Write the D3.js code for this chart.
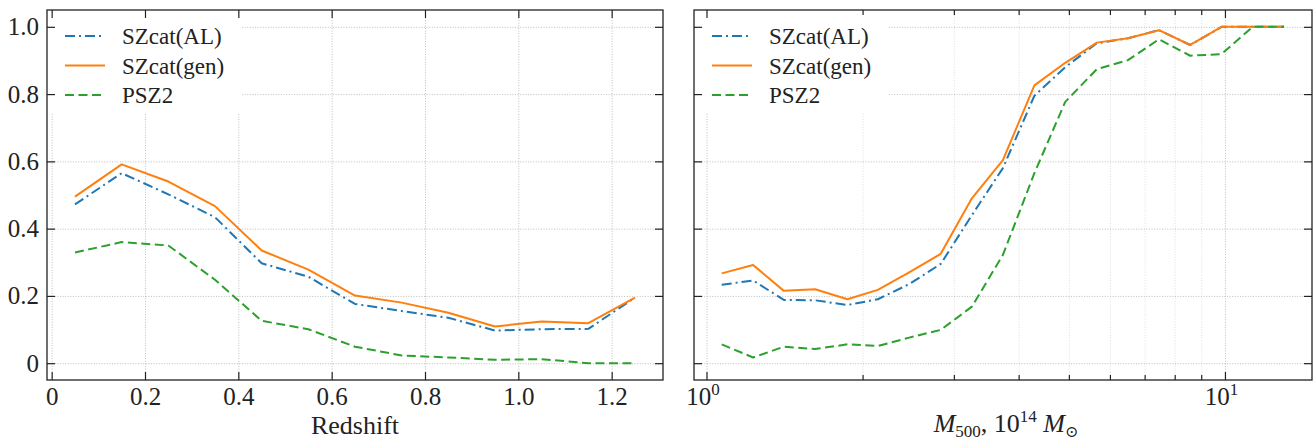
<!DOCTYPE html>
<html>
<head>
<meta charset="utf-8">
<script src="https://cdn.jsdelivr.net/npm/d3@7"></script>
<style>
body{margin:0;background:#fff}
</style>
</head>
<body>
<svg id="chart" width="1315" height="441"></svg>
<script>
// left panel: completeness vs redshift
const redshift = [0.05,0.15,0.25,0.35,0.45,0.55,0.65,0.75,0.85,0.95,1.05,1.15,1.25]
const zAL  = [0.472,0.565,0.502,0.434,0.297,0.257,0.176,0.155,0.135,0.097,0.101,0.102,0.195]
const zGen = [0.495,0.591,0.540,0.467,0.335,0.278,0.201,0.180,0.150,0.109,0.124,0.119,0.195]
const zPSZ = [0.329,0.360,0.350,0.248,0.126,0.101,0.049,0.023,0.017,0.010,0.012,0.000,0.000]

// right panel: completeness vs mass (1e14 Msun)
const mass = [1.07,1.23,1.41,1.62,1.87,2.14,2.46,2.83,3.25,3.73,4.29,4.92,5.66,6.50,7.46,8.57,9.85,11.31,13.0]
const mAL  = [0.233,0.246,0.188,0.187,0.173,0.190,0.235,0.295,0.440,0.580,0.795,0.880,0.951,0.966,0.990,0.946,1.0,1.0,1.0]
const mGen = [0.267,0.292,0.215,0.220,0.190,0.218,0.270,0.325,0.490,0.604,0.826,0.893,0.953,0.966,0.990,0.946,1.0,1.0,1.0]
const mPSZ = [0.056,0.017,0.049,0.042,0.056,0.051,0.076,0.099,0.168,0.322,0.565,0.777,0.874,0.901,0.963,0.914,0.919,1.0,1.0]

const seriesNames = ["SZcat(AL)","SZcat(gen)","PSZ2"]
const colors = ["#1f77b4","#ff7f0e","#2ca02c"]
const dashes = ["10,4,2,4",null,"9,4.5"]

const yTicks = [0,0.2,0.4,0.6,0.8,1.0]
const yTickLabels = ["0","0.2","0.4","0.6","0.8","1.0"]
const zTicks = [0,0.2,0.4,0.6,0.8,1.0,1.2]
const zTickLabels = ["0","0.2","0.4","0.6","0.8","1.0","1.2"]
const massMajor = [1,10]
const massMinor = [2,3,4,5,6,7,8,9]

const FONT = '"Liberation Serif","Times New Roman",Tinos,"DejaVu Serif",serif'
const svg = d3.select("#chart").attr("font-family",FONT)
const pTop = 10, pBottom = 380

const y = d3.scaleLinear().domain([-0.05,1.05]).range([pBottom,pTop])
const xz = d3.scaleLinear().domain([-0.01,1.31]).range([47,663])
const xm = d3.scaleLog().domain([0.946,14.72]).range([694,1312])

function panel(x, ticksMajor, ticksMinor, fmtX, showYLabels, xs, data){
  let [x0,x1] = x.range()
  let g = svg.append("g")
  let H = pBottom-pTop, W = x1-x0

  // grid
  if(ticksMinor){
    g.append("g").attr("transform",`translate(0,${pBottom})`)
    .call(d3.axisBottom(x).tickValues(ticksMinor).tickSize(-H).tickFormat(""))
    .call(a=>a.select(".domain").remove())
    .selectAll("line").attr("stroke","#dcdcdc").attr("stroke-width",0.9).attr("stroke-dasharray","1,1.6")
  }
  g.append("g").attr("transform",`translate(0,${pBottom})`)
  .call(d3.axisBottom(x).tickValues(ticksMajor).tickSize(-H).tickFormat(""))
  .call(a=>a.select(".domain").remove())
  .selectAll("line").attr("stroke","#b8b8b8").attr("stroke-width",0.9).attr("stroke-dasharray","1,1.6")
  g.append("g").attr("transform",`translate(${x0},0)`)
  .call(d3.axisLeft(y).tickValues(yTicks).tickSize(-W).tickFormat(""))
  .call(a=>a.select(".domain").remove())
  .selectAll("line").attr("stroke","#b8b8b8").attr("stroke-width",0.9).attr("stroke-dasharray","1,1.6")

  // legend background (covers grid)
  g.append("rect").attr("x",x0+3).attr("y",pTop+3).attr("width",191).attr("height",100).attr("fill","#fff")

  // lines
  let line = d3.line().x((d,i)=>x(xs[i])).y(d=>y(d))
  data.forEach((s,i)=>{
    g.append("path").datum(s).attr("d",line).attr("fill","none")
    .attr("stroke",colors[i]).attr("stroke-width",2)
    .attr("stroke-dasharray",dashes[i]).attr("stroke-linejoin","round")
  })

  // legend
  let lx = x0+18
  seriesNames.forEach((n,i)=>{
    let ly = pTop+26+i*29.5
    g.append("line").attr("x1",lx).attr("x2",lx+40).attr("y1",ly).attr("y2",ly)
    .attr("stroke",colors[i]).attr("stroke-width",2).attr("stroke-dasharray",dashes[i])
    g.append("text").attr("x",lx+57).attr("y",ly).attr("dy","0.35em")
    .attr("font-family",FONT).attr("fill","#222").attr("font-size",23).text(n)
  })

  // ticks, inward on all sides
  const tk = (sel)=>{ sel.select(".domain").remove(); sel.selectAll("line").attr("stroke","#222").attr("stroke-width",1.2) }
  let b = g.append("g").attr("transform",`translate(0,${pBottom})`)
  .call(d3.axisBottom(x).tickValues(ticksMajor).tickSize(-8).tickPadding(7).tickFormat(fmtX))
  b.call(tk)
  b.attr("font-family",FONT)
  b.selectAll("text").attr("font-family",FONT).attr("font-size",25).attr("fill","#222")
  if(ticksMinor){
    g.append("g").attr("transform",`translate(0,${pBottom})`)
    .call(d3.axisBottom(x).tickValues(ticksMinor).tickSize(-5).tickFormat("")).call(tk)
    g.append("g").attr("transform",`translate(0,${pTop})`)
    .call(d3.axisTop(x).tickValues(ticksMinor).tickSize(-5).tickFormat("")).call(tk)
  }
  g.append("g").attr("transform",`translate(0,${pTop})`)
  .call(d3.axisTop(x).tickValues(ticksMajor).tickSize(-8).tickFormat("")).call(tk)
  let l = g.append("g").attr("transform",`translate(${x0},0)`)
  .call(d3.axisLeft(y).tickValues(yTicks).tickSize(-8).tickPadding(8)
    .tickFormat((d,i)=>showYLabels?yTickLabels[i]:""))
  l.call(tk)
  l.attr("font-family",FONT)
  l.selectAll("text").attr("font-family",FONT).attr("font-size",25).attr("fill","#222")
  g.append("g").attr("transform",`translate(${x1},0)`)
  .call(d3.axisRight(y).tickValues(yTicks).tickSize(-8).tickFormat("")).call(tk)

  // frame
  g.append("rect").attr("x",x0).attr("y",pTop).attr("width",W).attr("height",H)
  .attr("fill","none").attr("stroke","#222").attr("stroke-width",1.3)
  return b
}

panel(xz, zTicks, null, (d,i)=>zTickLabels[i], true, redshift, [zAL,zGen,zPSZ])
let bm = panel(xm, massMajor, massMinor, ()=>"", false, mass, [mAL,mGen,mPSZ])

// log tick labels 10^0, 10^1
bm.selectAll(".tick text").each(function(d){
  let t = d3.select(this).attr("dy",null)
  t.attr("y",25).attr("x",-4)
  t.append("tspan").text("10")
  t.append("tspan").attr("font-size",17).attr("dy",-10).text(Math.round(Math.log10(d)))
})

// axis labels
svg.append("text").attr("x",(47+663)/2).attr("y",434).attr("text-anchor","middle")
.attr("font-family",FONT).attr("fill","#222").attr("font-size",26).text("Redshift")

let xl = svg.append("text").attr("x",(694+1312)/2+3).attr("y",432).attr("text-anchor","middle")
.attr("font-family",FONT).attr("fill","#222").attr("font-size",26)
xl.append("tspan").attr("font-style","italic").text("M")
xl.append("tspan").attr("font-size",17).attr("dy",5).text("500")
xl.append("tspan").attr("dy",-5).text(", 10")
xl.append("tspan").attr("font-size",17).attr("dy",-10).text("14")
xl.append("tspan").attr("dy",10).attr("font-style","italic").text(" M")
xl.append("tspan").attr("font-size",16).attr("dy",5).text("⊙")
</script>
</body>
</html>
